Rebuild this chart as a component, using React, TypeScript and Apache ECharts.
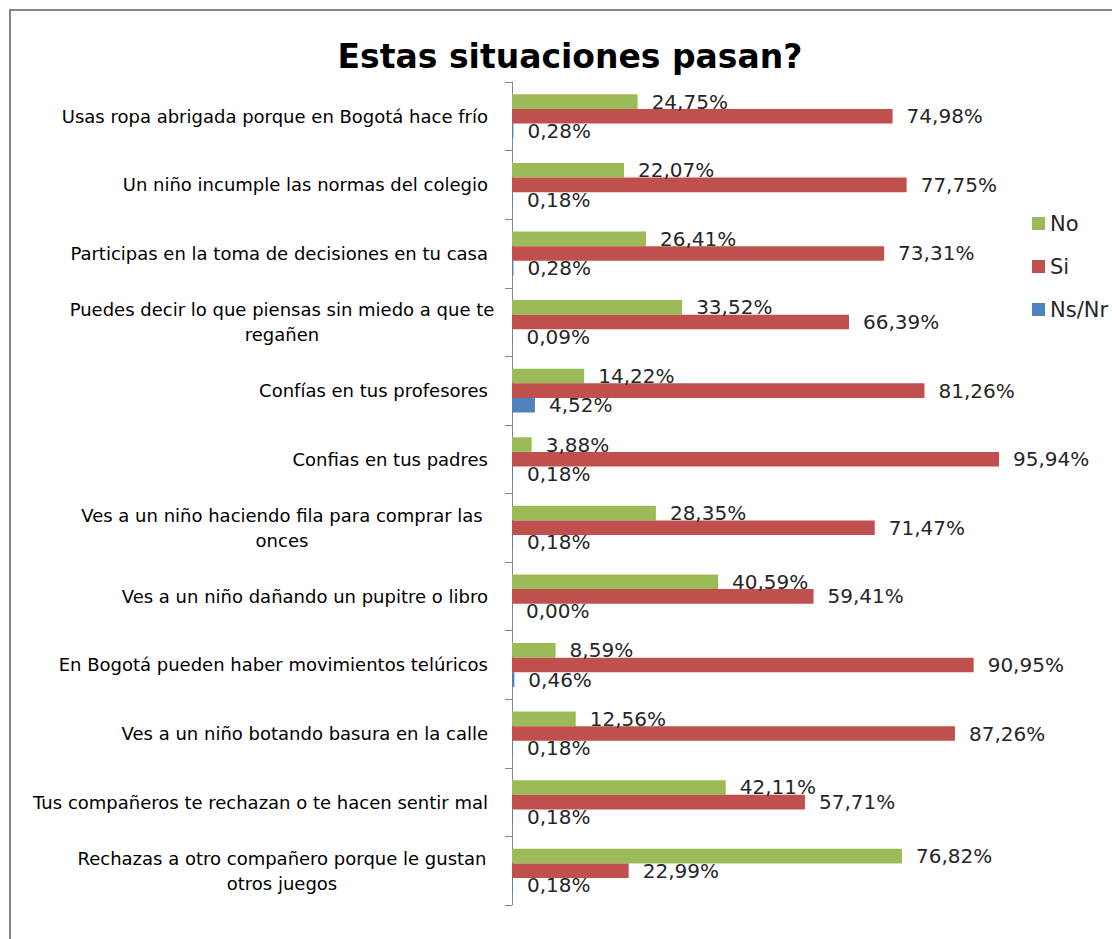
import React, { useEffect, useRef } from "react";
import * as echarts from "echarts";

const categories = [
  "Usas ropa abrigada porque en Bogotá hace frío",
  "Un niño incumple las normas del colegio",
  "Participas en la toma de decisiones en tu casa",
  "Puedes decir lo que piensas sin miedo a que te\nregañen",
  "Confías en tus profesores",
  "Confias en tus padres",
  "Ves a un niño haciendo fila para comprar las\nonces",
  "Ves a un niño dañando un pupitre o libro",
  "En Bogotá pueden haber movimientos telúricos",
  "Ves a un niño botando basura en la calle",
  "Tus compañeros te rechazan o te hacen sentir mal",
  "Rechazas a otro compañero porque le gustan\notros juegos",
];

const seriesNames = ["No", "Si", "Ns/Nr"];
const noValues = [24.75, 22.07, 26.41, 33.52, 14.22, 3.88, 28.35, 40.59, 8.59, 12.56, 42.11, 76.82];
const siValues = [74.98, 77.75, 73.31, 66.39, 81.26, 95.94, 71.47, 59.41, 90.95, 87.26, 57.71, 22.99];
const nsnrValues = [0.28, 0.18, 0.28, 0.09, 4.52, 0.18, 0.18, 0.0, 0.46, 0.18, 0.18, 0.18];
const colors = ["#9BBB59", "#C0504D", "#4F81BD"];

const FONT = "DejaVu Sans";

export default function App() {
  const ref = useRef<HTMLDivElement>(null);
  useEffect(() => {
    if (!ref.current) return;
    const chart = echarts.init(ref.current, null, { renderer: "svg" });
    const fmt = (v: number) => v.toFixed(2).replace(".", ",") + "%";
    const mk = (name: string, data: number[], color: string) => ({
      name,
      type: "bar",
      data,
      barGap: "0%",
      barCategoryGap: "36%",
      itemStyle: { color },
      label: {
        show: true,
        position: "right",
        distance: 14,
        fontFamily: FONT,
        fontSize: 20,
        color: "#262626",
        formatter: (p: any) => fmt(p.value),
      },
    });
    chart.setOption({
      animation: false,
      backgroundColor: "#ffffff",
      title: {
        text: "Estas situaciones pasan?",
        left: 565,
        top: 35,
        textAlign: "center",
        textStyle: { fontFamily: FONT, fontSize: 33, fontWeight: "bold", color: "#000" },
      },
      graphic: [
        {
          type: "rect",
          shape: { x: 10, y: 10, width: 1200, height: 1000 },
          style: { fill: "none", stroke: "#868686", lineWidth: 2 },
          silent: true,
        },
      ],
      legend: {
        orient: "vertical",
        left: 1027,
        top: 208,
        itemWidth: 13,
        itemHeight: 13,
        itemGap: 22,
        icon: "rect",
        data: seriesNames,
        textStyle: { fontFamily: FONT, fontSize: 21, color: "#262626", lineHeight: 21 },
      },
      grid: { left: 512, top: 82, width: 507.6, height: 823, containLabel: false },
      xAxis: {
        type: "value",
        min: 0,
        max: 100,
        show: false,
      },
      yAxis: {
        type: "category",
        inverse: true,
        data: categories,
        axisLine: { show: true, lineStyle: { color: "#868686", width: 1 } },
        axisTick: { show: true, length: 7, lineStyle: { color: "#868686" } },
        axisLabel: {
          margin: 24,
          fontFamily: FONT,
          fontSize: 18,
          color: "#000",
          lineHeight: 25,
          formatter: (v: string) => {
            if (v.indexOf("\n") < 0) return v;
            return v
              .split("\n")
              .map((l) => "{c|" + l + "}")
              .join("\n");
          },
          rich: {
            c: { width: 412, align: "center", fontFamily: FONT, fontSize: 18, color: "#000", lineHeight: 25 },
          },
        },
      },
      series: [
        mk(seriesNames[0], noValues, colors[0]),
        mk(seriesNames[1], siValues, colors[1]),
        mk(seriesNames[2], nsnrValues, colors[2]),
      ],
    });
    return () => chart.dispose();
  }, []);
  return (
    <div
      ref={ref}
      style={{ position: "fixed", left: 0, top: 0, width: 1112, height: 939 }}
    />
  );
}
